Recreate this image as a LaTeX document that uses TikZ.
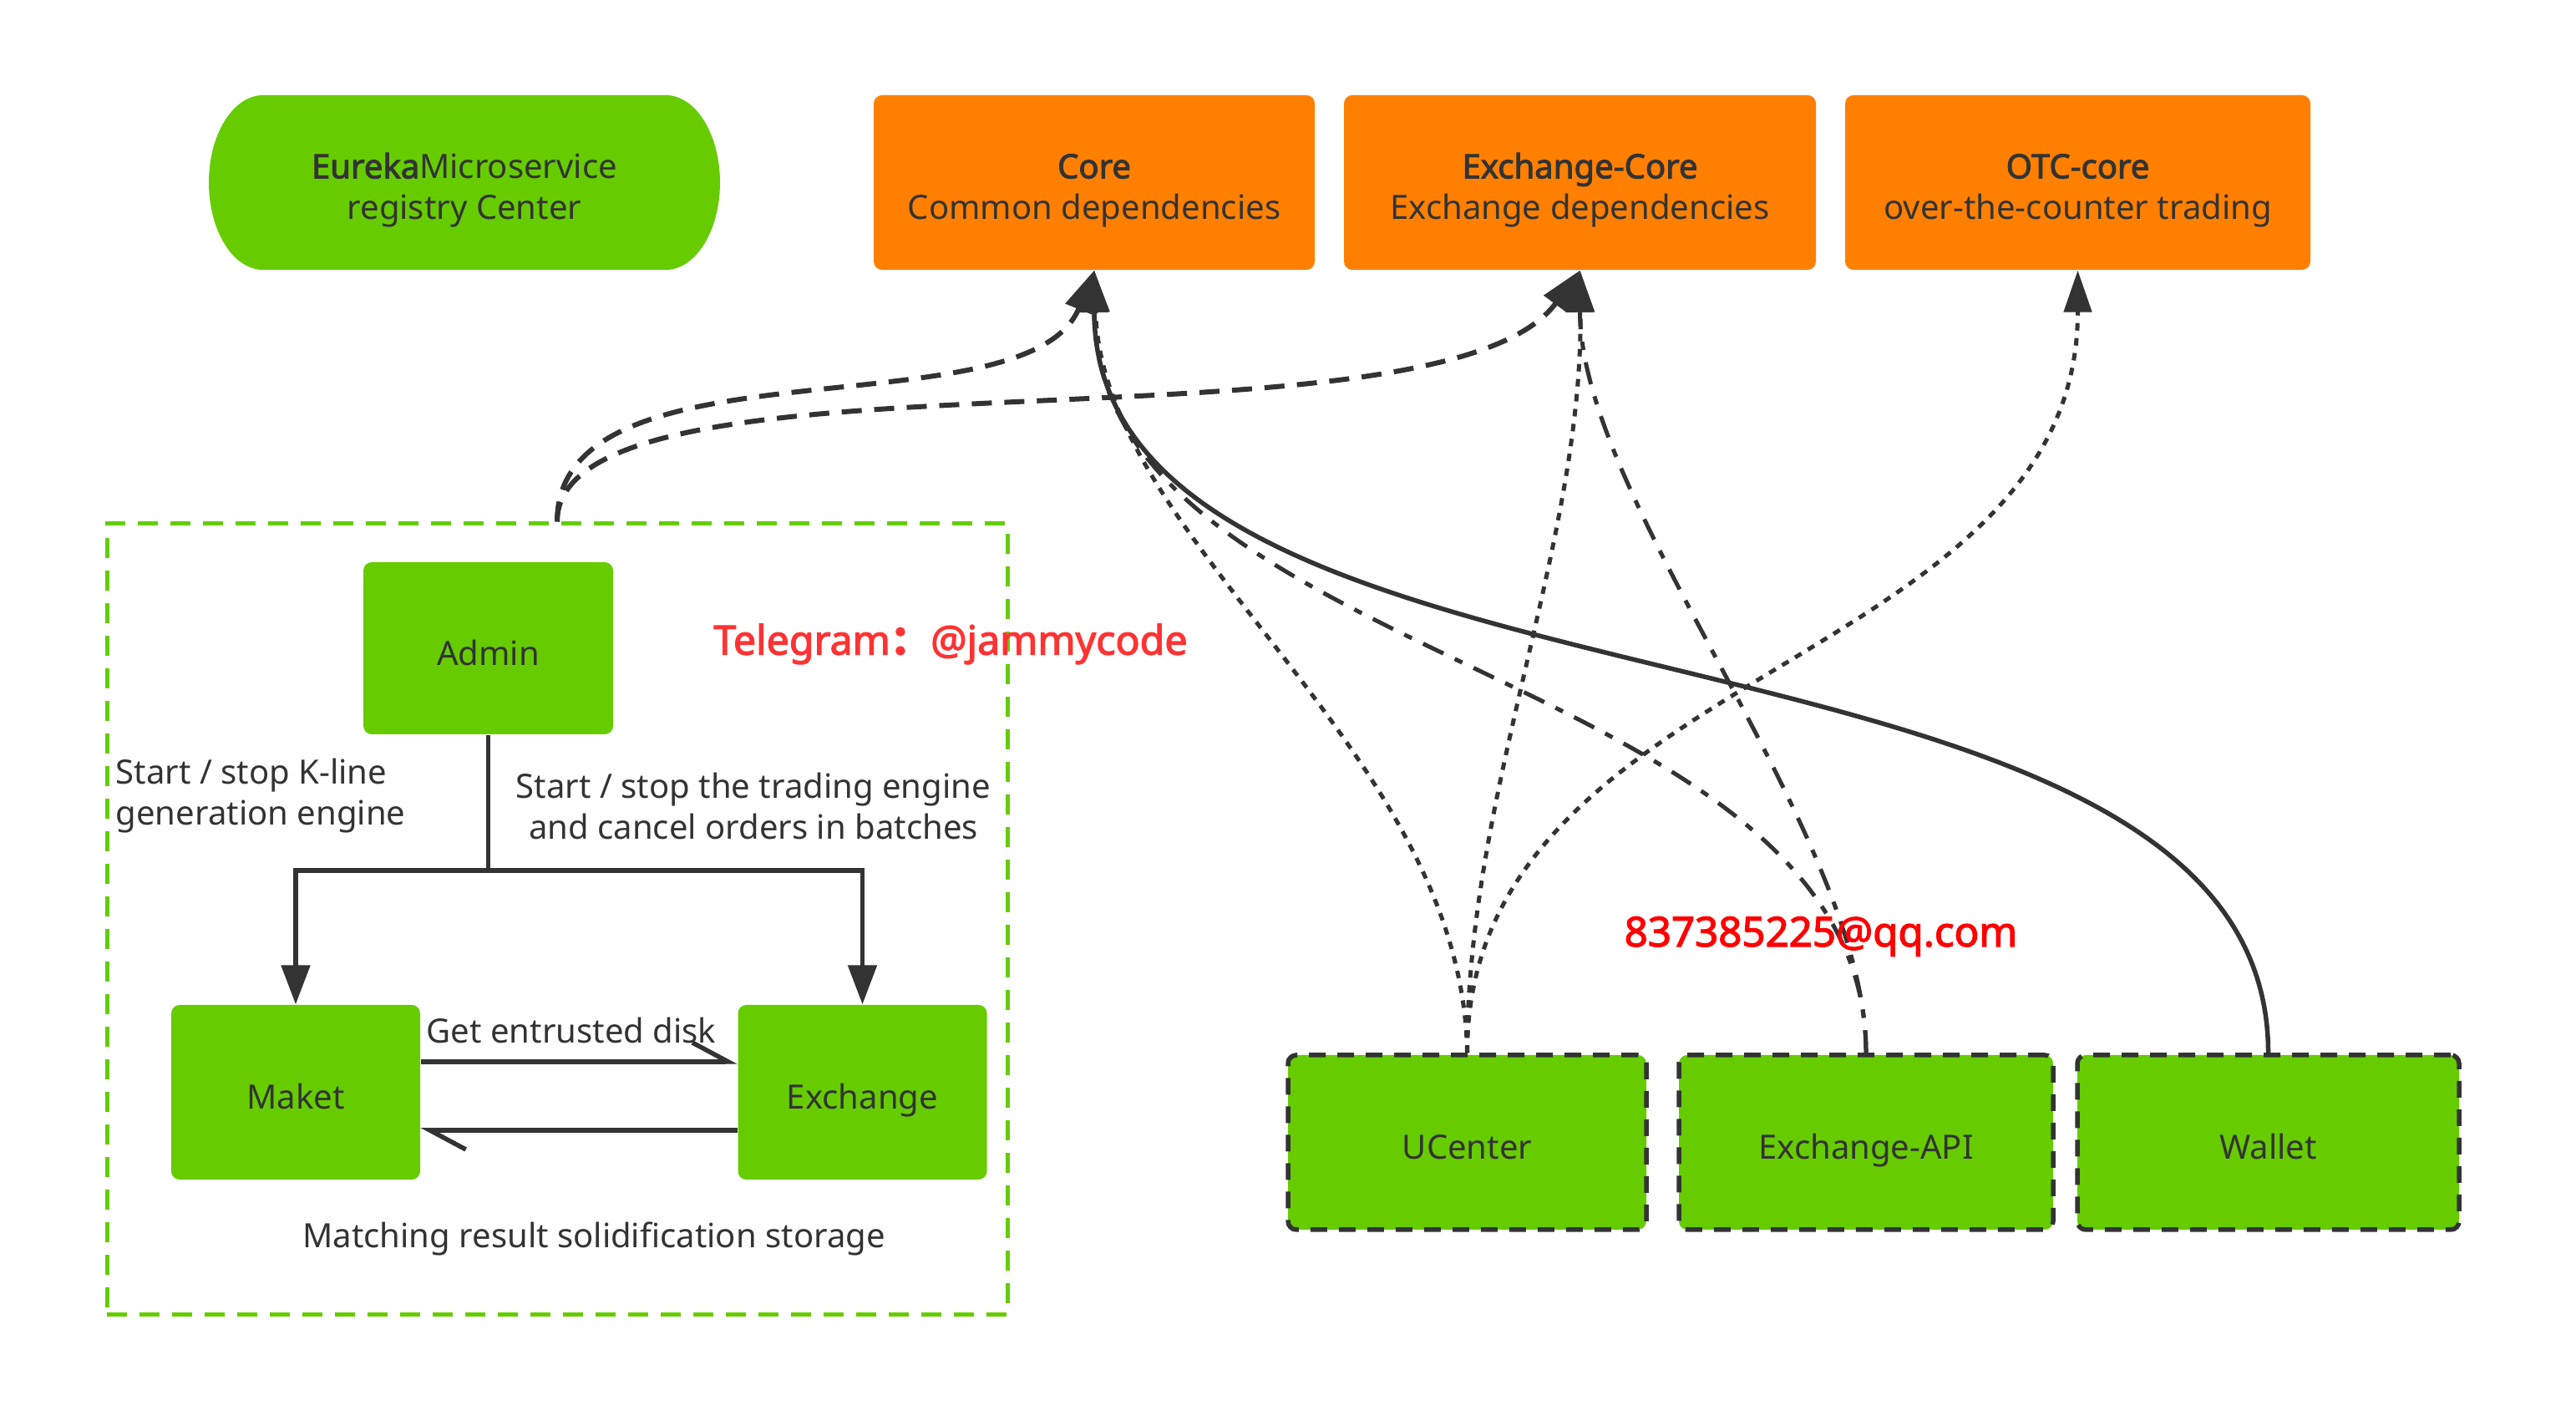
\documentclass[tikz,border=0pt]{standalone}
\usepackage{fontspec}
\setmainfont{Noto Sans}[BoldFont={Noto Sans}, BoldFeatures={FakeBold=2.5}]
\newfontfamily\cjkfont{Noto Sans CJK SC}[FakeBold=2.5]
\usetikzlibrary{arrows.meta}
\definecolor{boxgreen}{HTML}{66CC00}
\definecolor{boxorange}{HTML}{FF8000}
\definecolor{linegray}{HTML}{333333}
\definecolor{tgred}{HTML}{FF3333}
\definecolor{mailred}{HTML}{FF0000}
\tikzset{
  box/.style={rounded corners=0.1cm, align=center, minimum height=2.09cm, text height=0.41cm, text depth=0cm},
  twoline/.style={text height=0.95cm, text depth=0.074cm},
  greenbox/.style={box, fill=boxgreen, minimum width=#1},
  orangebox/.style={box, twoline, fill=boxorange, minimum width=#1},
  svcbox/.style={box, fill=boxgreen, minimum width=#1, draw=linegray, line width=0.055cm, dash pattern=on 0.2cm off 0.14cm},
  conn/.style={draw=linegray, -{Triangle[length=0.5cm,width=0.33cm]}},
  admindash/.style={conn, line width=0.06cm, dash pattern=on 0.24cm off 0.15cm},
  ucdot/.style={conn, line width=0.05cm, dash pattern=on 0.09cm off 0.09cm},
  apidash/.style={conn, line width=0.05cm, dash pattern=on 0.27cm off 0.15cm on 0.1cm off 0.15cm},
  walletline/.style={conn, line width=0.055cm},
  treeline/.style={draw=linegray, line width=0.055cm},
  barb/.style={treeline, -{Straight Barb[harpoon,length=0.43cm,width=0.46cm]}},
  redtext/.style={font=\fontsize{#1}{16}\selectfont\bfseries}
}
\begin{document}
\begin{tikzpicture}[every node/.append style={text=linegray, inner sep=0pt, font=\fontsize{11.4}{13.9}\selectfont}]
    \fill[white] (0,0) rectangle (30.84,17.01);
    % top row
    \node[fill=white, minimum width=6.12cm, minimum height=2.09cm, align=center, twoline,
          path picture={\fill[boxgreen] ([xshift=0.65cm]path picture bounding box.north west)
            -- ([xshift=-0.65cm]path picture bounding box.north east)
            arc[start angle=90, end angle=-90, x radius=0.65cm, y radius=1.045cm]
            -- ([xshift=0.65cm]path picture bounding box.south west)
            arc[start angle=270, end angle=90, x radius=0.65cm, y radius=1.045cm] -- cycle;}]
          (eureka) at (5.56,14.825) {\textbf{Eureka}Microservice\\registry Center};
    \node[orangebox=5.28cm] (core) at (13.10,14.825) {\textbf{Core}\\Common dependencies};
    \node[orangebox=5.65cm] (xcore) at (18.915,14.825) {\textbf{Exchange-Core}\\Exchange dependencies};
    \node[orangebox=5.57cm] (otc) at (24.875,14.825) {\textbf{OTC-core}\\over-the-counter trading};
    % admin group
    \node[draw=boxgreen, line width=0.05cm, dash pattern=on 0.24cm off 0.15cm,
          minimum width=10.78cm, minimum height=9.47cm] (group) at (6.67,6.005) {};
    \node[greenbox=2.99cm, minimum height=2.06cm] (admin) at (5.845,9.25) {Admin};
    \node[greenbox=2.98cm] (maket) at (3.54,3.935) {Maket};
    \node[greenbox=2.98cm] (exch) at (10.325,3.935) {Exchange};
    \coordinate (split) at (5.845,6.59);
    \draw[treeline] (admin) -- (split);
    \draw[treeline,-{Triangle[length=0.47cm,width=0.34cm]}] (split) -| (maket);
    \draw[treeline,-{Triangle[length=0.47cm,width=0.34cm]}] (split) -| (exch);
    \node[anchor=west, align=left] (kline) at (1.38,7.485) {Start / stop K-line\\generation engine};
    \node[align=center] (engine) at (9.02,7.36) {Start / stop the trading engine\\and cancel orders in batches};
    \draw[barb] ([yshift=0.365cm]maket.east) -- ([yshift=0.365cm]exch.west);
    \draw[barb] ([yshift=-0.455cm]exch.west) -- ([yshift=-0.455cm]maket.east);
    \node (disk) at (6.84,4.68) {Get entrusted disk};
    \node (store) at (7.11,2.18) {Matching result solidification storage};
    % services
    \node[svcbox=4.29cm] (ucenter) at (17.565,3.335) {UCenter};
    \node[svcbox=4.48cm] (xapi) at (22.34,3.335) {Exchange-API};
    \node[svcbox=4.57cm] (wallet) at (27.155,3.335) {Wallet};
    % dependencies
    \draw[admindash] (group.north) .. controls +(0,2.26) and +(-0.80,-1.97) .. (core.south);
    \draw[admindash] (group.north) .. controls +(0,2.26) and +(-1.71,-2.32) .. (xcore.south);
    \draw[ucdot] (ucenter.north) .. controls +(-0.06,3.63) and +(0.10,-3.27) .. (core.south);
    \draw[ucdot] (ucenter.north) .. controls +(0,3.13) and +(0.04,-3.27) .. (xcore.south);
    \draw[ucdot] (ucenter.north) .. controls +(0,4.63) and +(0,-4.77) .. (otc.south);
    \draw[apidash] (xapi.north) .. controls +(0,4.63) and +(0,-4.77) .. (core.south);
    \draw[apidash] (xapi.north) .. controls +(0,2.63) and +(0,-2.77) .. (xcore.south);
    \draw[walletline] (wallet.north) .. controls +(0,5.63) and +(0,-5.77) .. (core.south);
    % contact
    \node[redtext=13.75, text=tgred] (tg) at (11.38,9.30) {Telegram{\cjkfont ：}@jammycode};
    \node[redtext=14, text=mailred] (mail) at (21.80,5.80) {837385225@qq.com};
\end{tikzpicture}
\end{document}
